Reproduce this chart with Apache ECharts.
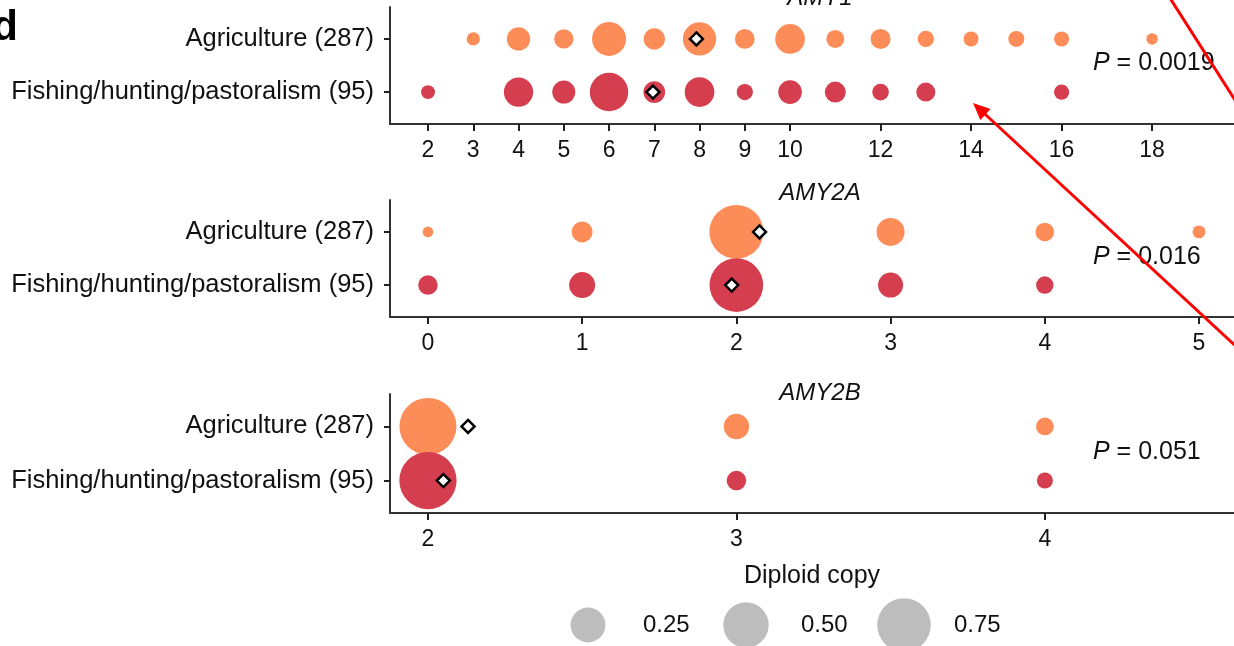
<!DOCTYPE html>
<html>
<head>
<meta charset="utf-8">
<script src="https://cdn.jsdelivr.net/npm/echarts@6/dist/echarts.min.js"></script>
<style>
  html, body { margin: 0; padding: 0; background: #fff; }
  #main { width: 1234px; height: 646px; }
</style>
</head>
<body>
<div id="main"></div>
<script>
// groups (rows), top to bottom
const groups = ['Agriculture (287)', 'Fishing/hunting/pastoralism (95)'];

// AMY1: diploid copy number -> frequency
const amy1AgriCopy = [3, 4, 5, 6, 7, 8, 9, 10, 11, 12, 13, 14, 15, 16, 18];
const amy1AgriFreq = [0.009, 0.077, 0.040, 0.234, 0.057, 0.221, 0.044, 0.160, 0.031, 0.046, 0.021, 0.015, 0.020, 0.015, 0.005];
const amy1FishCopy = [2, 4, 5, 6, 7, 8, 9, 10, 11, 12, 13, 16];
const amy1FishFreq = [0.011, 0.154, 0.074, 0.326, 0.061, 0.160, 0.021, 0.080, 0.054, 0.023, 0.038, 0.016];
const amy1Means = [7.93, 6.97];

// AMY2A
const amy2aAgriCopy = [0, 1, 2, 3, 4, 5];
const amy2aAgriFreq = [0.004, 0.054, 0.764, 0.135, 0.035, 0.008];
const amy2aFishCopy = [0, 1, 2, 3, 4];
const amy2aFishFreq = [0.042, 0.108, 0.750, 0.096, 0.028];
const amy2aMeans = [2.15, 1.97];

// AMY2B
const amy2bAgriCopy = [2, 3, 4];
const amy2bAgriFreq = [0.870, 0.100, 0.030];
const amy2bFishCopy = [2, 3, 4];
const amy2bFishFreq = [0.880, 0.042, 0.020];
const amy2bMeans = [2.13, 2.05];

const genes = ['AMY1', 'AMY2A', 'AMY2B'];
const pValues = ['0.0019', '0.016', '0.051'];
const amy1Ticks = [2, 3, 4, 5, 6, 7, 8, 9, 10, 12, 14, 16, 18];
const amy2aTicks = [0, 1, 2, 3, 4, 5];
const amy2bTicks = [2, 3, 4];

// size legend
const sizeBreaks = [0.25, 0.5, 0.75];
const sizeLabels = ['0.25', '0.50', '0.75'];

const FONT = '"Liberation Sans", Arial, Helvetica, sans-serif';
const colors = ['#fc8d59', '#d53e4f'];
const axisColor = '#333';

// area-like size scale (diameter in px)
function sizeOf(v) {
  return 9.5 + 47.5 * Math.sqrt(Math.max(v - 0.0035, 0) / 0.8665);
}

const panels = [
  { top: 7, height: 117, min: 1.16, max: 19.81, ticks: amy1Ticks,
    copies: [amy1AgriCopy, amy1FishCopy], freqs: [amy1AgriFreq, amy1FishFreq], means: amy1Means,
    titleY: -2, pY: 63 },
  { top: 200, height: 117, min: -0.246, max: 5.227, ticks: amy2aTicks,
    copies: [amy2aAgriCopy, amy2aFishCopy], freqs: [amy2aAgriFreq, amy2aFishFreq], means: amy2aMeans,
    titleY: 193, pY: 257 },
  { top: 394, height: 119, min: 1.877, max: 4.613, ticks: amy2bTicks,
    copies: [amy2bAgriCopy, amy2bFishCopy], freqs: [amy2bAgriFreq, amy2bFishFreq], means: amy2bMeans,
    titleY: 393, pY: 452 }
];

const grid = [];
const xAxis = [];
const yAxis = [];
const series = [];
const graphic = [];

panels.forEach(function (p, k) {
  grid.push({ left: 390, top: p.top, width: 844, height: p.height });
  xAxis.push({
    type: 'value', gridIndex: k, min: p.min, max: p.max,
    axisLine: { show: true, onZero: false, lineStyle: { color: axisColor, width: 2 } },
    axisTick: { show: true, length: 7, customValues: p.ticks, lineStyle: { color: '#222', width: 2 } },
    axisLabel: { customValues: p.ticks, fontSize: 23, color: '#111', margin: 15, fontFamily: FONT },
    splitLine: { show: false },
    name: k === 2 ? 'Diploid copy' : '',
    nameLocation: 'middle', nameGap: 51,
    nameTextStyle: { fontSize: 25, color: '#111', fontFamily: FONT }
  });
  yAxis.push({
    type: 'value', gridIndex: k, min: -0.6, max: 1.6, inverse: true,
    axisLine: { show: true, onZero: false, lineStyle: { color: axisColor, width: 2 } },
    axisTick: { show: true, length: 6, customValues: [0, 1], lineStyle: { color: '#222', width: 2 } },
    axisLabel: { customValues: [0, 1], formatter: function (v) { return groups[v]; },
      fontSize: 25.5, color: '#111', margin: 16, fontFamily: FONT },
    splitLine: { show: false }
  });
  for (let g = 0; g < 2; g++) {
    series.push({
      type: 'scatter', xAxisIndex: k, yAxisIndex: k,
      data: p.copies[g].map(function (c, i) { return [c, g, p.freqs[g][i]]; }),
      symbolSize: function (d) { return sizeOf(d[2]); },
      itemStyle: { color: colors[g], opacity: 1 },
      z: 2
    });
  }
  series.push({
    type: 'scatter', xAxisIndex: k, yAxisIndex: k,
    data: p.means.map(function (m, g) { return [m, g]; }),
    symbol: 'diamond', symbolSize: 13,
    itemStyle: { color: '#fff', borderColor: '#000', borderWidth: 2.5, opacity: 1 },
    z: 3
  });
  graphic.push({
    type: 'text', z: 10,
    style: { x: 820, y: p.titleY, text: genes[k], textAlign: 'center', textVerticalAlign: 'middle',
      font: 'italic 24px ' + FONT, fill: '#111' }
  });
  graphic.push({
    type: 'text', z: 10,
    style: { x: 1093, y: p.pY, text: '{i|P} = ' + pValues[k], textAlign: 'left', textVerticalAlign: 'middle',
      font: '25px ' + FONT, fill: '#111',
      rich: { i: { fontStyle: 'italic', fontSize: 25, fontFamily: FONT, fill: '#111' } } }
  });
});

// size legend
grid.push({ left: 430, top: 605, width: 632, height: 40 });
xAxis.push({ type: 'value', gridIndex: 3, min: -1, max: 3, show: false });
yAxis.push({ type: 'value', gridIndex: 3, min: -1, max: 1, show: false });
const legendOffsets = [55, 55, 50];
series.push({
  type: 'scatter', xAxisIndex: 3, yAxisIndex: 3,
  data: sizeBreaks.map(function (v, i) {
    return { value: [i, 0, v], label: { offset: [legendOffsets[i], 0] } };
  }),
  symbolSize: function (d) { return sizeOf(d[2]); },
  itemStyle: { color: '#bdbdbd', opacity: 1 },
  label: {
    show: true, position: 'inside', align: 'left',
    formatter: function (prm) { return sizeLabels[prm.dataIndex]; },
    fontSize: 24, color: '#111', fontFamily: FONT
  }
});

// panel letter
graphic.push({
  type: 'text', z: 10,
  style: { x: 18, y: 28, text: 'd', textAlign: 'right', textVerticalAlign: 'middle',
    font: 'bold 42px ' + FONT, fill: '#000' }
});

// red annotation arrows
function arrowHead(tx, ty, fx, fy, len, half) {
  const dx = tx - fx, dy = ty - fy, L = Math.sqrt(dx * dx + dy * dy);
  const ux = dx / L, uy = dy / L;
  const bx = tx - ux * len, by = ty - uy * len;
  return [[tx, ty], [bx - uy * half, by + ux * half], [bx + uy * half, by - ux * half]];
}
graphic.push({ type: 'line', z: 20, shape: { x1: 1168, y1: -5, x2: 1242, y2: 111 },
  style: { stroke: '#ff0000', lineWidth: 3 } });
graphic.push({ type: 'line', z: 20, shape: { x1: 980, y1: 109.5, x2: 1240, y2: 350 },
  style: { stroke: '#ff0000', lineWidth: 3 } });
graphic.push({ type: 'polygon', z: 20, shape: { points: arrowHead(973, 103, 1240, 350, 17, 7.5) },
  style: { fill: '#ff0000' } });

const chart = echarts.init(document.getElementById('main'));
chart.setOption({
  animation: false,
  backgroundColor: '#fff',
  grid: grid,
  xAxis: xAxis,
  yAxis: yAxis,
  series: series,
  graphic: graphic
});
</script>
</body>
</html>
